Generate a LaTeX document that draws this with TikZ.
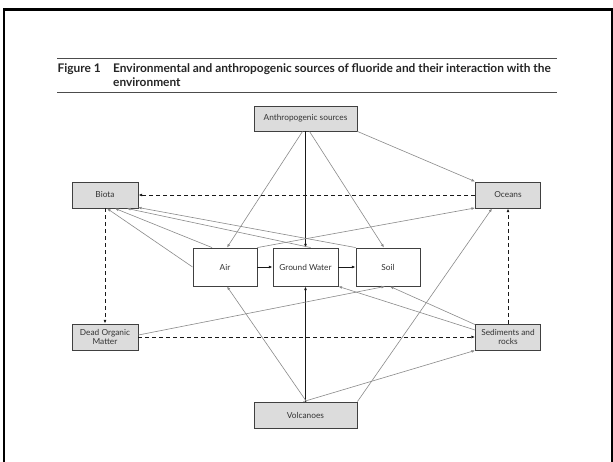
\documentclass[tikz,border=0pt]{standalone}
\usepackage{fontspec}
\setmainfont{Lato}
\usetikzlibrary{arrows.meta}
\definecolor{boxfill}{HTML}{DCDCDC}
\definecolor{boxline}{HTML}{404040}
\definecolor{thin}{HTML}{8A8A8A}
\definecolor{txt}{HTML}{333333}
\begin{document}
\begin{tikzpicture}[x=1pt,y=-1pt,
  box/.style={draw=boxline, line width=0.9pt, fill=boxfill, inner sep=0pt,
    font=\fontsize{8.3}{9.6}\selectfont, text=txt, align=center},
  wbox/.style={box, fill=white},
  tip/.style={-{Latex[length=3.6pt,width=2.8pt]}},
  gline/.style={tip, draw=thin, line width=0.6pt},
  bline/.style={tip, draw=black!90, line width=0.9pt},
  dline/.style={tip, draw=black!90, line width=0.9pt, dash pattern=on 4pt off 3pt},
  rule/.style={draw=black!70, line width=0.8pt},
  ttl/.style={anchor=base west, inner sep=0pt, font=\fontsize{11.9}{13}\selectfont\bfseries, text=black!85}
]
\useasboundingbox (0,0) rectangle (613,462);
\fill[white] (0,0) rectangle (613,462);
% frame
\draw[line width=2.4pt] (4.2,462) -- (4.2,9.6) -- (611.8,9.6) -- (611.8,462);
% title
\draw[rule] (57,58) -- (557,58);
\draw[rule] (57,92.5) -- (557,92.5);
\node[ttl] (fig) at (57.5,72.5) {Figure 1};
\node[ttl] (t1) at (113,72.5) {Environmental and anthropogenic sources of fluoride and their interaction with the};
\node[ttl] (t2) at (113,86.5) {environment};
% nodes
\node[box, minimum width=103pt, minimum height=25pt] (anth) at (305.5,118.5) {Anthropogenic sources};
\node[box, minimum width=66pt, minimum height=26pt] (biota) at (105,195) {Biota};
\node[box, minimum width=65pt, minimum height=26pt] (oceans) at (508,195) {Oceans};
\node[wbox, minimum width=64pt, minimum height=38pt] (air) at (225,267) {Air};
\node[wbox, minimum width=65pt, minimum height=38pt] (gw) at (305.5,267) {Ground Water};
\node[wbox, minimum width=64pt, minimum height=38pt] (soil) at (388,267) {Soil};
\node[box, minimum width=66pt, minimum height=26pt] (dom) at (105,337) {Dead Organic\\Matter};
\node[box, minimum width=65pt, minimum height=26pt] (sed) at (508,337) {Sediments and\\rocks};
\node[box, minimum width=103pt, minimum height=26pt] (volc) at (305.5,415) {Volcanoes};
% black solid
\draw[bline] (anth.south) -- (gw.north);
\draw[bline] (volc.north) -- (gw.south);
\draw[bline] (air.east) -- (gw.west);
\draw[bline] (gw.east) -- (soil.west);
% gray thin from anthropogenic
\draw[gline] ([xshift=-3pt]anth.south) -- ([xshift=2pt]air.north);
\draw[gline] ([xshift=4pt]anth.south) -- ([xshift=-4pt]soil.north);
\draw[gline] (anth.south east) -- (oceans.north west);
% to biota
\draw[gline] (air.west) -- ([xshift=2pt]biota.south);
\draw[gline] ([xshift=-13pt]air.north) -- ([xshift=10pt]biota.south);
\draw[gline] ([xshift=5pt]gw.north) -- ([xshift=22pt]biota.south);
\draw[gline] (soil.north west) -- ([xshift=-0.5pt,yshift=1pt]biota.south east);
% to oceans
\draw[gline] (air.north east) -- ([yshift=0.5pt]oceans.south west);
\draw[gline] (volc.north east) -- ([xshift=-16pt]oceans.south);
% from volcanoes
\draw[gline] ([xshift=1pt]volc.north) -- ([xshift=2pt]air.south);
\draw[gline] ([xshift=-2pt]volc.north) -- (sed.south west);
% to soil / gw from below
\draw[gline] ([yshift=2pt]dom.east) -- ([xshift=-3pt]soil.south);
\draw[gline] ([yshift=-1pt]sed.north west) -- ([xshift=2pt]soil.south);
\draw[gline] ([yshift=7pt]sed.west) -- (gw.south east);
% dashed cycle
\draw[dline] (oceans.west) -- (biota.east);
\draw[dline] (biota.south) -- (dom.north);
\draw[dline] (dom.east) -- (sed.west);
\draw[dline] (sed.north) -- (oceans.south);
\end{tikzpicture}
\end{document}
